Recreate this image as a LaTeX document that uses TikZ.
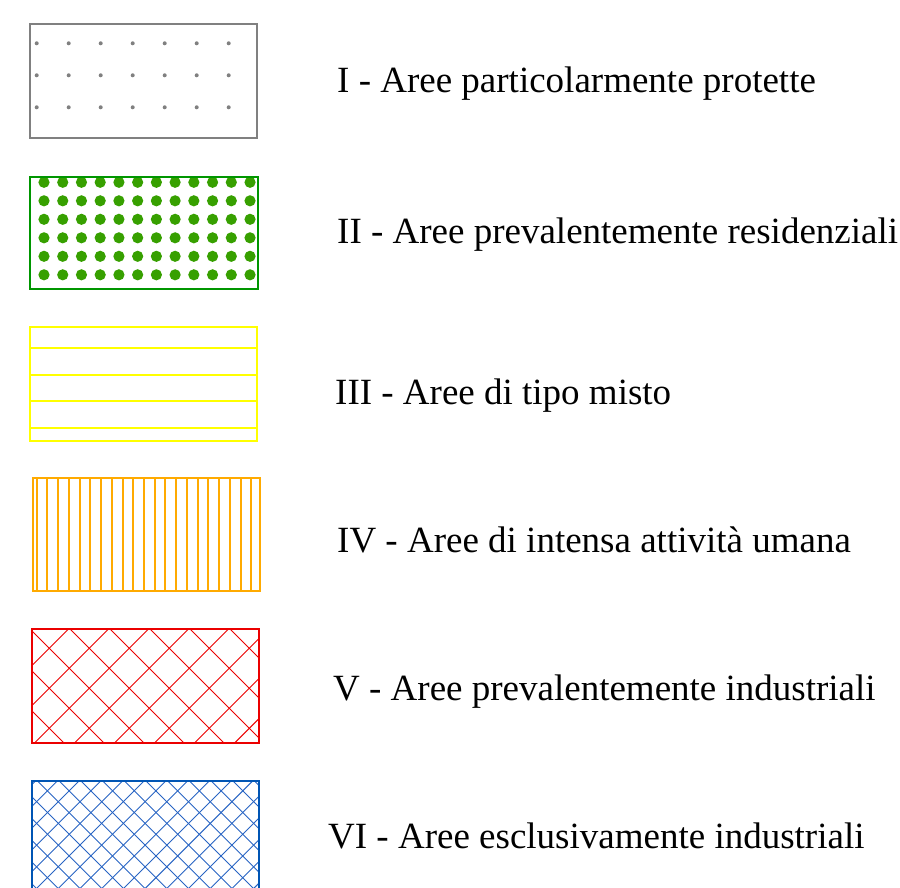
\documentclass[tikz,border=0pt]{standalone}
\usepackage{fontspec}
\setmainfont{Liberation Serif}
\definecolor{cgray}{RGB}{128,128,128}
\definecolor{cgreenb}{RGB}{0,150,0}
\definecolor{cgreend}{RGB}{55,160,0}
\definecolor{cyellow}{RGB}{255,255,0}
\definecolor{corange}{RGB}{255,170,0}
\definecolor{cred}{RGB}{235,0,0}
\definecolor{cblue}{RGB}{0,85,180}
\definecolor{cblueh}{RGB}{40,100,195}
\begin{document}
\begin{tikzpicture}[x=1pt,y=-1pt,
  lbl/.style={anchor=base west,inner sep=0pt,font=\fontsize{37}{40}\selectfont},
  frame/.style={line width=2pt}]
\useasboundingbox (0,0) rectangle (900,887);
\begin{scope}
\clip (0,0) rectangle (900,887);

% Box I
\node[draw=cgray,frame,inner sep=0pt,minimum width=227pt,minimum height=113.5pt,anchor=north west] (b1) at (29,23.3) {};
\foreach \i in {0,...,6}
  \foreach \j in {0,1,2}
    \fill[cgray] ({36.7+32*\i},{43.3+32*\j}) circle (2);
\node[lbl] (t1) at (337,92.7) {I - Aree particolarmente protette};

% Box II
\begin{scope}
\clip (29,175.7) rectangle (256.7,287.7);
\foreach \i in {-1,...,11}
  \foreach \j in {0,...,5}
    \fill[cgreend] ({44+18.73*\i},{182.3+18.5*\j}) circle (5.6);
\end{scope}
\node[draw=cgreenb,frame,inner sep=0pt,minimum width=227.7pt,minimum height=112pt,anchor=north west] (b2) at (29,175.7) {};
\node[lbl] (t2) at (337,243) {II - Aree prevalentemente residenziali};

% Box III
\node[draw=cyellow,frame,inner sep=0pt,minimum width=226.7pt,minimum height=113.4pt,anchor=north west] (b3) at (29.3,326.3) {};
\foreach \y in {348,374.7,401.2,427.7}
  \draw[cyellow,line width=2pt] (b3.west |- 0,\y) -- (b3.east |- 0,\y);
\node[lbl] (t3) at (335,404) {III - Aree di tipo misto};

% Box IV
\node[draw=corange,frame,inner sep=0pt,minimum width=227.6pt,minimum height=112.7pt,anchor=north west] (b4) at (31.7,477.3) {};
\foreach \i in {0,...,20}
  \draw[corange,line width=2pt] ({36.7+10.73*\i},477.3) -- ({36.7+10.73*\i},590);
\node[lbl] (t4) at (337,552) {IV - Aree di intensa attività umana};

% Box V
\begin{scope}
\clip (31,628.3) rectangle (258.3,741.7);
\foreach \k in {-1,...,8}
  \draw[cred,line width=0.9pt] ({697.6+40*\k-600},600) -- ({697.6+40*\k-780},780);
\foreach \k in {-3,...,6}
  \draw[cred,line width=0.9pt] ({-599+40*\k+600},600) -- ({-599+40*\k+780},780);
\end{scope}
\node[draw=cred,frame,inner sep=0pt,minimum width=227.3pt,minimum height=113.4pt,anchor=north west] (b5) at (31,628.3) {};
\node[lbl] (t5) at (333,700) {V - Aree prevalentemente industriali};

% Box VI
\begin{scope}
\clip (31,780) rectangle (258.3,895);
\foreach \k in {-2,...,15}
  \draw[cblueh,line width=0.9pt] ({838.3+21.7*\k-760},760) -- ({838.3+21.7*\k-920},920);
\foreach \k in {-7,...,10}
  \draw[cblueh,line width=0.9pt] ({-721.7+21.7*\k+760},760) -- ({-721.7+21.7*\k+920},920);
\end{scope}
\node[draw=cblue,frame,inner sep=0pt,minimum width=227.3pt,minimum height=115pt,anchor=north west] (b6) at (31,780) {};
\node[lbl] (t6) at (328,848) {VI - Aree esclusivamente industriali};
\end{scope}
\end{tikzpicture}
\end{document}
